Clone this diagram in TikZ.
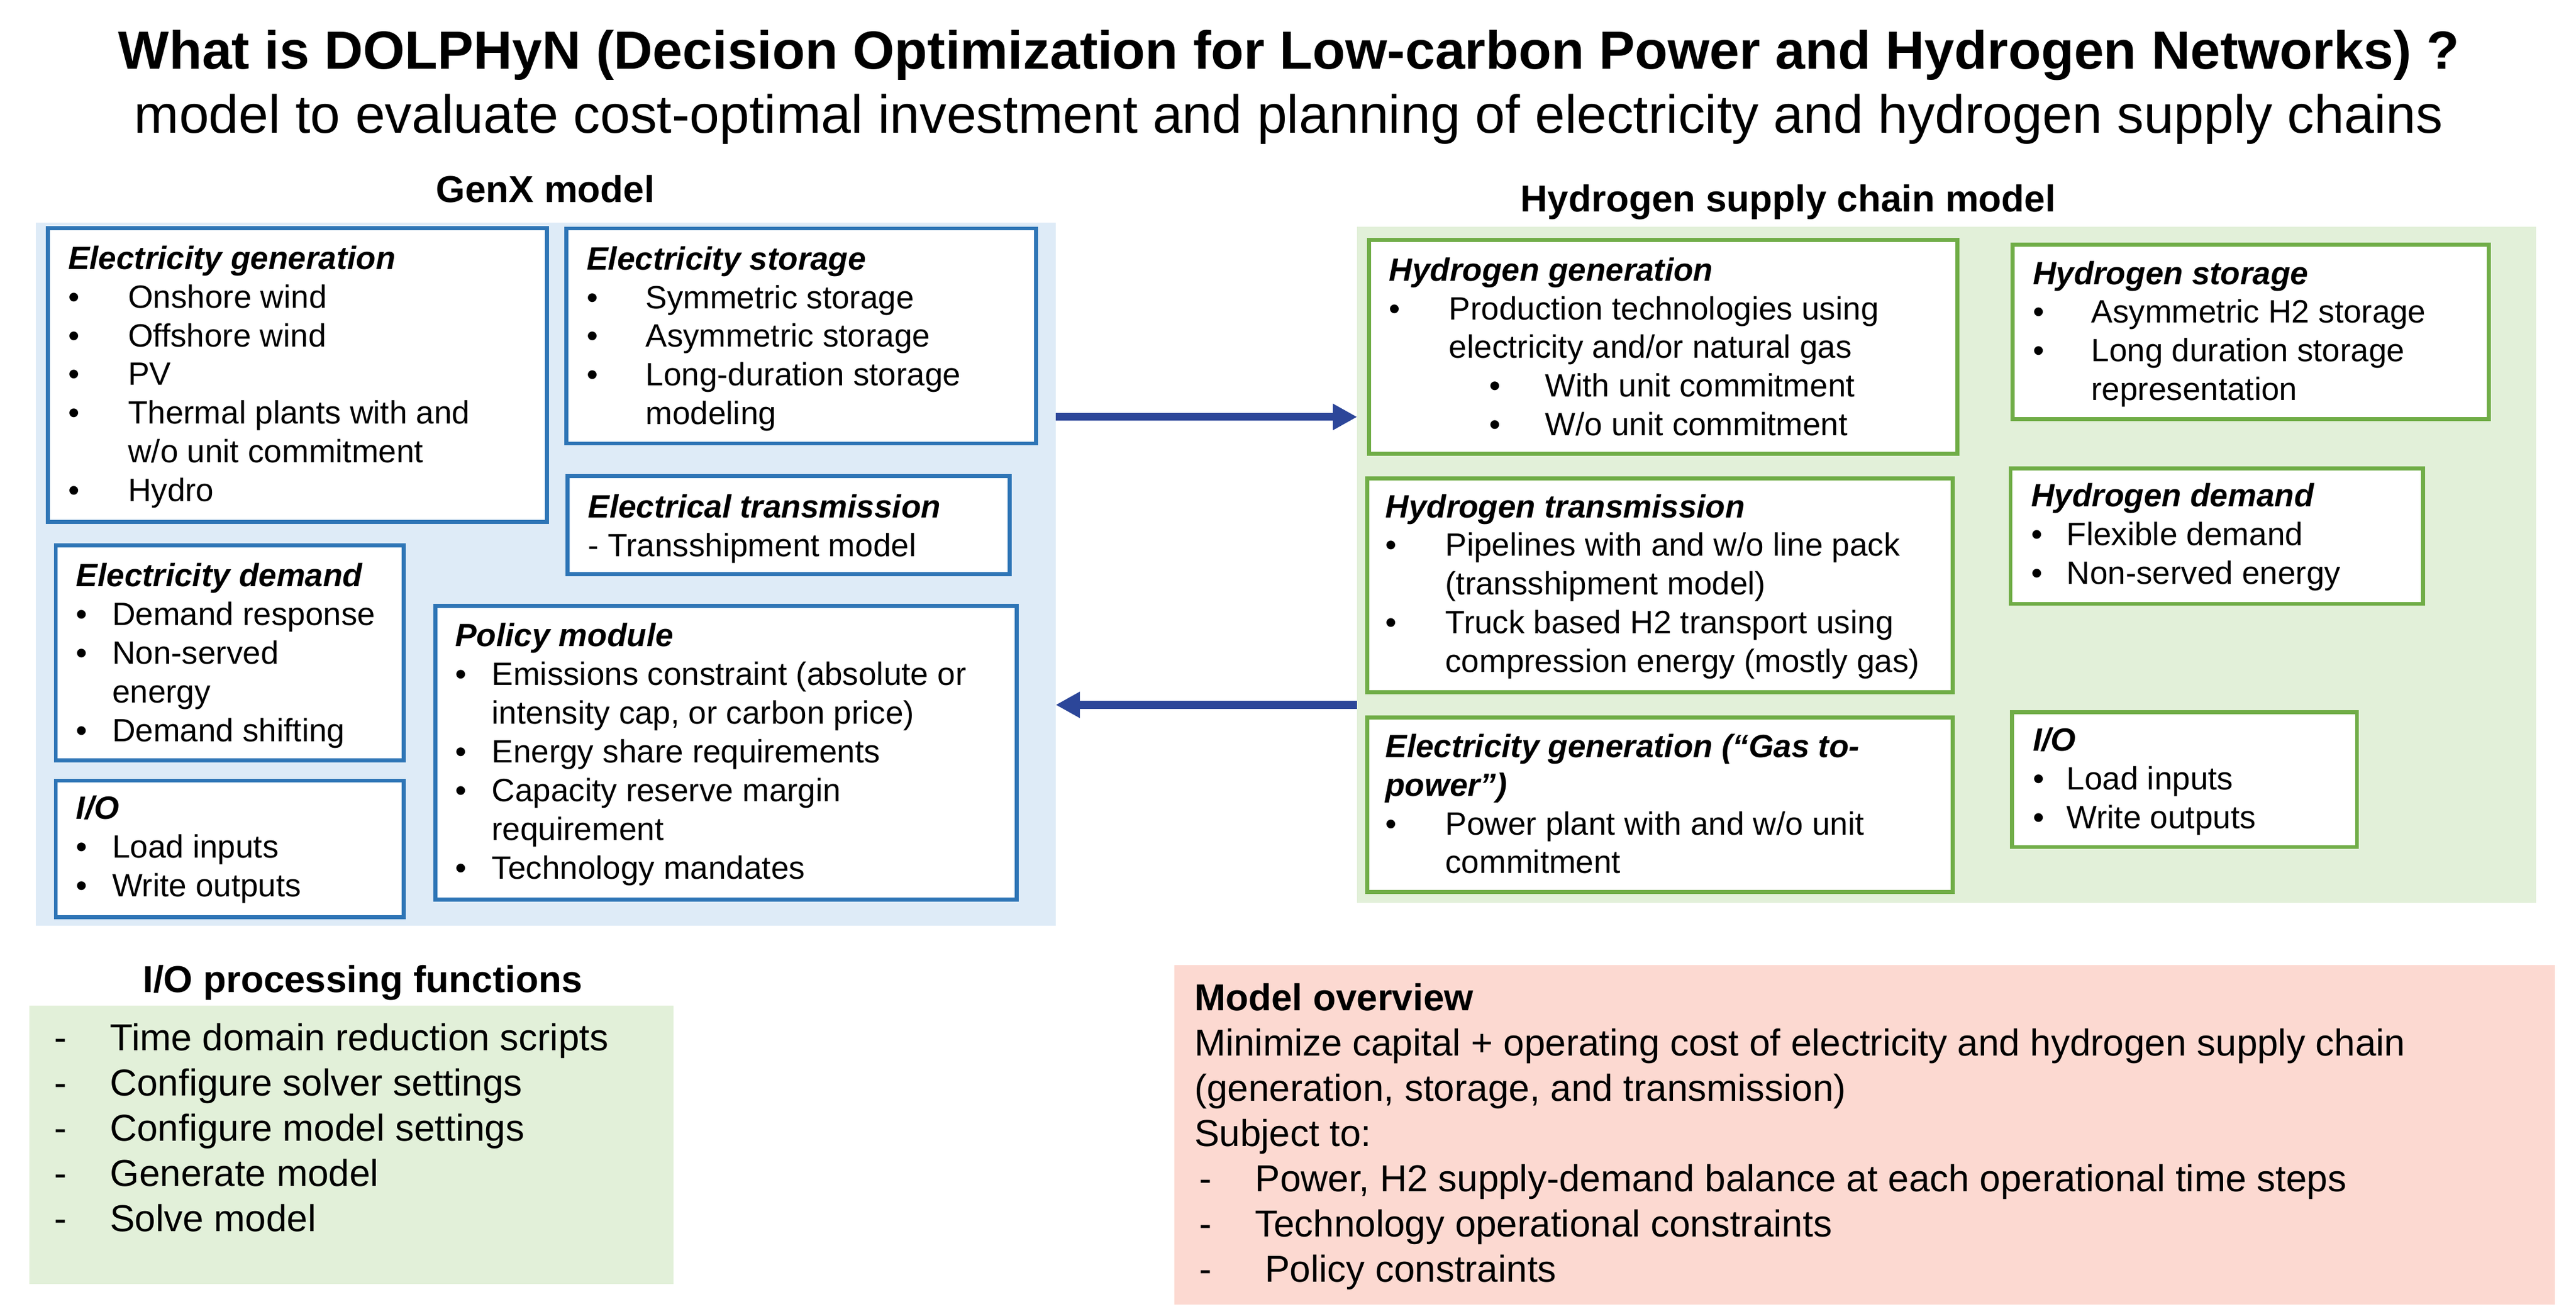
\documentclass[tikz,border=0pt]{standalone}
\usepackage{fontspec}
\setmainfont{Liberation Sans}
\usetikzlibrary{arrows.meta,fit}
\newdimen\pxu \pxu=0.025cm
\definecolor{bluebg}{RGB}{222,235,247}
\definecolor{blueline}{RGB}{46,117,182}
\definecolor{greenbg}{RGB}{226,240,217}
\definecolor{greenline}{RGB}{112,173,71}
\definecolor{pinkbg}{RGB}{252,217,209}
\definecolor{arrowblue}{RGB}{44,70,153}
\newcommand\BoxHead[1]{\hbox{\bfseries\itshape #1}}
\newcommand\BItem[2]{\hbox{\hbox to #1\pxu{•\hfil}#2}}
\newcommand\SItem[3]{\hbox{\hskip #1\pxu\relax\hbox to #2\pxu{•\hfil}#3}}
\newcommand\CItem[2]{\hbox{\hskip #1\pxu\relax #2}}
\newcommand\DItem[2]{\hbox{\hskip 3\pxu\relax\hbox to #1\pxu{-\hfil}#2}}
\newcommand\PLine[1]{\hbox{#1}}
\tikzset{
  txt/.style={inner sep=0pt, outer sep=0pt, anchor=base west, text=black,
    font=\fontsize{13.94}{16.75}\selectfont},
  bigtxt/.style={inner sep=0pt, outer sep=0pt, anchor=base west, text=black,
    font=\fontsize{16.22}{19.56}\selectfont},
  sechead/.style={inner sep=0pt, outer sep=0pt, anchor=base, text=black,
    font=\fontsize{16.22}{19.56}\selectfont\bfseries},
  bbox/.style={draw=blueline, fill=white, line width=1.7pt, inner sep=0pt, outer sep=0pt},
  gbox/.style={draw=greenline, fill=white, line width=1.7pt, inner sep=0pt, outer sep=0pt},
  panel/.style={inner sep=0pt, outer sep=0pt, draw=none},
  flowarrow/.style={-{Triangle[length=10.5pt,width=10.7pt]}, line width=3.4pt, draw=arrowblue},
}
\begin{document}
\begin{tikzpicture}[x=0.025cm, y=-0.025cm]
\useasboundingbox (0,0) rectangle (1568,799.55);
\fill[white] (0,0) rectangle (1568,799.55);

% titles
\node[inner sep=0pt, anchor=base, font=\fontsize{23.26}{27.8}\selectfont\bfseries] (title) at (784.5,41.9)
  {What is DOLPHyN (Decision Optimization for Low-carbon Power and Hydrogen Networks) ?};
\node[inner sep=0pt, anchor=base, font=\fontsize{23.26}{27.8}\selectfont] (subtitle) at (784.5,81)
  {model to evaluate cost-optimal investment and planning of electricity and hydrogen supply chains};

% panels
\node[panel, fill=bluebg, fit={(21.9,135.5) (642.6,563.2)}] (genx) {};
\node[panel, fill=greenbg, fit={(826.1,138) (1543.6,549.4)}] (hsc) {};
\node[sechead] (genxt) at (332,123) {GenX model};
\node[sechead] (hsct) at (1088.5,128.7) {Hydrogen supply chain model};

% GenX boxes
\node[bbox, fit={(29.2,138.8) (333,317.6)}] (egen) {};
\node[txt] (egent) at (41.5,163.8) {\vtop{%
  \BoxHead{Electricity generation}%
  \BItem{36.5}{Onshore wind}%
  \BItem{36.5}{Offshore wind}%
  \BItem{36.5}{PV}%
  \BItem{36.5}{Thermal plants with and}%
  \CItem{36.5}{w/o unit commitment}%
  \BItem{36.5}{Hydro}}};

\node[bbox, fit={(344.7,139) (630.7,269.9)}] (estor) {};
\node[txt] (estort) at (357.2,164.1) {\vtop{%
  \BoxHead{Electricity storage}%
  \BItem{35.8}{Symmetric storage}%
  \BItem{35.8}{Asymmetric storage}%
  \BItem{35.8}{Long-duration storage}%
  \CItem{35.8}{modeling}}};

\node[bbox, fit={(345.5,289.7) (614.7,349.3)}] (etran) {};
\node[txt] (etrant) at (358,315) {\vtop{%
  \BoxHead{Electrical transmission}%
  \PLine{- Transshipment model}}};

\node[bbox, fit={(33.9,331.9) (245.7,462.8)}] (edem) {};
\node[txt] (edemt) at (46.4,357) {\vtop{%
  \BoxHead{Electricity demand}%
  \BItem{21.9}{Demand response}%
  \BItem{21.9}{Non-served}%
  \CItem{21.9}{energy}%
  \BItem{21.9}{Demand shifting}}};

\node[bbox, fit={(33.9,475) (245.7,558.2)}] (eio) {};
\node[txt] (eiot) at (46.4,498.6) {\vtop{%
  \BoxHead{I/O}%
  \BItem{21.9}{Load inputs}%
  \BItem{21.9}{Write outputs}}};

\node[bbox, fit={(265,368.8) (618.9,547.4)}] (pol) {};
\node[txt] (polt) at (277,393.4) {\vtop{%
  \BoxHead{Policy module}%
  \BItem{22.4}{Emissions constraint (absolute or}%
  \CItem{22.4}{intensity cap, or carbon price)}%
  \BItem{22.4}{Energy share requirements}%
  \BItem{22.4}{Capacity reserve margin}%
  \CItem{22.4}{requirement}%
  \BItem{22.4}{Technology mandates}}};

% Hydrogen boxes
\node[gbox, fit={(833.4,145.9) (1191.4,276)}] (hgen) {};
\node[txt] (hgent) at (845.6,170.9) {\vtop{%
  \BoxHead{Hydrogen generation}%
  \BItem{36.5}{Production technologies using}%
  \CItem{36.5}{electricity and/or natural gas}%
  \SItem{60.9}{34.1}{With unit commitment}%
  \SItem{60.9}{34.1}{W/o unit commitment}}};

\node[gbox, fit={(1225,148.8) (1514.8,255.1)}] (hstor) {};
\node[txt] (hstort) at (1237.4,173) {\vtop{%
  \BoxHead{Hydrogen storage}%
  \BItem{35.6}{Asymmetric H2 storage}%
  \BItem{35.6}{Long duration storage}%
  \CItem{35.6}{representation}}};

\node[gbox, fit={(832.2,291) (1188.5,421.3)}] (htran) {};
\node[txt] (htrant) at (843.3,314.9) {\vtop{%
  \BoxHead{Hydrogen transmission}%
  \BItem{36.5}{Pipelines with and w/o line pack}%
  \CItem{36.5}{(transshipment model)}%
  \BItem{36.5}{Truck based H2 transport using}%
  \CItem{36.5}{compression energy (mostly gas)}}};

\node[gbox, fit={(1223.8,285.1) (1474.8,367.4)}] (hdem) {};
\node[txt] (hdemt) at (1236.4,308.4) {\vtop{%
  \BoxHead{Hydrogen demand}%
  \BItem{21.6}{Flexible demand}%
  \BItem{21.6}{Non-served energy}}};

\node[gbox, fit={(832.2,436.5) (1188.5,542.8)}] (g2p) {};
\node[txt] (g2pt) at (843.3,460.8) {\vtop{%
  \BoxHead{Electricity generation (“Gas to-}%
  \BoxHead{power”)}%
  \BItem{36.5}{Power plant with and w/o unit}%
  \CItem{36.5}{commitment}}};

\node[gbox, fit={(1224.7,433.4) (1434.7,515.4)}] (hio) {};
\node[txt] (hiot) at (1237.4,457) {\vtop{%
  \BoxHead{I/O}%
  \BItem{20.6}{Load inputs}%
  \BItem{20.6}{Write outputs}}};

% arrows between the two models
\draw[flowarrow] (genx.east |- 0,253.7) -- (hsc.west |- 0,253.7);
\draw[flowarrow] (hsc.west |- 0,428.9) -- (genx.east |- 0,428.9);

% I/O processing functions
\node[sechead, anchor=base west] (iopt) at (87,603.8) {I/O processing functions};
\node[panel, fill=greenbg, fit={(18,611.9) (410,781.2)}] (iop) {};
\node[bigtxt] (iopl) at (30,639.4) {\vtop{%
  \DItem{34}{Time domain reduction scripts}%
  \DItem{34}{Configure solver settings}%
  \DItem{34}{Configure model settings}%
  \DItem{34}{Generate model}%
  \DItem{34}{Solve model}}};

% Model overview
\node[panel, fill=pinkbg, fit={(715,587.3) (1555,793.8)}] (mo) {};
\node[bigtxt] (mot) at (727,615) {\vtop{%
  \PLine{\bfseries Model overview}%
  \PLine{Minimize capital + operating cost of electricity and hydrogen supply chain}%
  \PLine{(generation, storage, and transmission)}%
  \PLine{Subject to:}%
  \DItem{34}{Power, H2 supply-demand balance at each operational time steps}%
  \DItem{34}{Technology operational constraints}%
  \DItem{40}{Policy constraints}}};
\end{tikzpicture}
\end{document}
